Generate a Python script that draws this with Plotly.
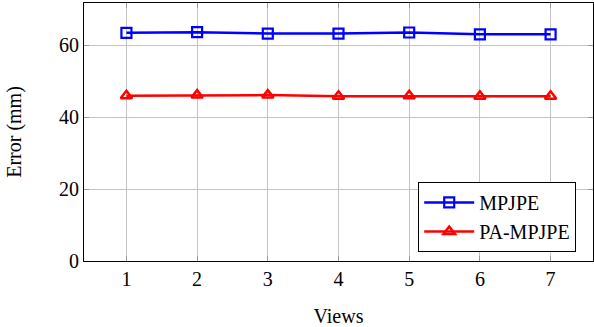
import plotly.graph_objects as go

views = [1, 2, 3, 4, 5, 6, 7]
mpjpe = [63.4, 63.6, 63.2, 63.2, 63.5, 63.0, 63.0]
pa_mpjpe = [45.9, 46.1, 46.1, 45.8, 45.9, 45.8, 45.8]
x_ticks = [1, 2, 3, 4, 5, 6, 7]
y_ticks = [0, 20, 40, 60]

font = "Liberation Serif"
fs = 20

fig = go.Figure()
fig.add_trace(go.Scatter(
    x=views, y=mpjpe, name="MPJPE", mode="lines+markers",
    line=dict(color="#0000ff", width=2.5),
    marker=dict(symbol="square-open", size=10, color="#0000ff", line=dict(width=2.2)),
))
fig.add_trace(go.Scatter(
    x=views, y=pa_mpjpe, name="PA-MPJPE", mode="lines+markers",
    line=dict(color="#ff0000", width=2.5),
    marker=dict(symbol="triangle-up-open", size=10, color="#ff0000", line=dict(width=2.5)),
))

axis_common = dict(
    showgrid=True, gridcolor="#c4c4c4", gridwidth=1,
    showline=True, linecolor="black", linewidth=1.2, mirror="ticks",
    ticks="inside", ticklen=5, tickcolor="#9a9a9a",
    zeroline=False, automargin=False,
    tickfont=dict(family=font, size=fs, color="black"),
)

fig.update_xaxes(
    range=[0.4, 7.6], tickvals=x_ticks,
    title=dict(text="Views", font=dict(family=font, size=fs, color="black"), standoff=24),
    **axis_common,
)
fig.update_yaxes(
    range=[0, 71.7], tickvals=y_ticks,
    title=dict(text="Error (mm)", font=dict(family=font, size=fs, color="black"), standoff=31),
    **axis_common,
)

fig.update_layout(
    width=594, height=327,
    margin=dict(l=84, r=1, t=3, b=66, autoexpand=False),
    plot_bgcolor="white", paper_bgcolor="white",
    font=dict(family=font, size=fs, color="black"),
    legend=dict(
        x=0.967, y=0.035, xanchor="right", yanchor="bottom",
        bgcolor="white", bordercolor="black", borderwidth=1,
        font=dict(family=font, size=fs, color="black"),
        itemwidth=50, tracegroupgap=0,
    ),
    showlegend=True,
)

fig.write_html("out.html", config={"displayModeBar": False},
               post_script="document.body.style.margin='0px';document.body.style.overflow='hidden';")
